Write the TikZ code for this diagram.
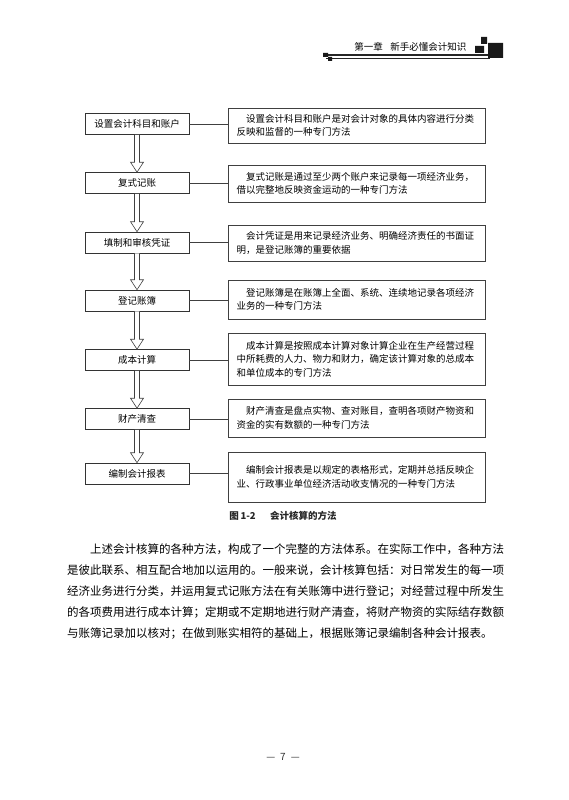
\documentclass[tikz,border=0pt]{standalone}
\usepackage{fontspec}
\setmainfont{Noto Sans CJK SC}
\usepackage{tikz}
\usetikzlibrary{calc}
\usepackage{xcolor}

\begin{document}
\begin{tikzpicture}[x=1pt,y=-1pt,
    method/.style={draw=black!80, line width=0.6pt, minimum width=104pt, minimum height=21pt,
        inner sep=0pt, font=\fontsize{9.5pt}{12pt}\selectfont, text=black},
    explain/.style={draw=black!75, line width=0.8pt, text width=240pt, inner xsep=8.5pt,
        inner ysep=0pt, align=left, font=\fontsize{9.5pt}{13.5pt}\selectfont, text=black},
    link/.style={draw=black!75, line width=0.6pt}]
    \useasboundingbox (0,0) rectangle (569,800);
    \fill[white] (0,0) rectangle (569,800);

    % Running head
    \node[anchor=base east, font=\fontsize{9.5pt}{9.5pt}\selectfont, text=black] (head) at (470,50.5) {第一章\hspace{0.8em}新手必懂会计知识};
    \draw[black!85, line width=1.2pt] (326,55) -- (490,55);
    \draw[black!85, line width=0.6pt] (326,58) -- (490,58);
    \fill[black!90] (323,53) rectangle (328,57) (328,57) rectangle (332,61);
    \fill[black!90] (481,37) rectangle (487,44) (475,46) rectangle (484,53) (488,43) rectangle (503,58);

    % Methods
    \node[method] (l1) at (137,124)   {设置会计科目和账户};
    \node[method] (l2) at (137,183)   {复式记账};
    \node[method] (l3) at (137,242.5) {填制和审核凭证};
    \node[method] (l4) at (137,300.5) {登记账簿};
    \node[method] (l5) at (137,360)   {成本计算};
    \node[method] (l6) at (137,419)   {财产清查};
    \node[method] (l7) at (137,473.5) {编制会计报表};

    % Explanations
    \node[explain, minimum height=35pt] (r1) at (356.5,125.5) {\hspace*{1em}设置会计科目和账户是对会计对象的具体内容进行分类\\反映和监督的一种专门方法};
    \node[explain, minimum height=37pt] (r2) at (356.5,183.5) {\hspace*{1em}复式记账是通过至少两个账户来记录每一项经济业务，\\借以完整地反映资金运动的一种专门方法};
    \node[explain, minimum height=36pt] (r3) at (356.5,243) {\hspace*{1em}会计凭证是用来记录经济业务、明确经济责任的书面证\\明，是登记账簿的重要依据};
    \node[explain, minimum height=39pt] (r4) at (356.5,299.5) {\hspace*{1em}登记账簿是在账簿上全面、系统、连续地记录各项经济\\业务的一种专门方法};
    \node[explain, minimum height=52pt] (r5) at (356.5,359) {\hspace*{1em}成本计算是按照成本计算对象计算企业在生产经营过程\\中所耗费的人力、物力和财力，确定该计算对象的总成本\\和单位成本的专门方法};
    \node[explain, minimum height=38pt] (r6) at (356.5,418) {\hspace*{1em}财产清查是盘点实物、查对账目，查明各项财产物资和\\资金的实有数额的一种专门方法};
    \node[explain, minimum height=50pt] (r7) at (356.5,477) {\hspace*{1em}编制会计报表是以规定的表格形式，定期并总括反映企\\业、行政事业单位经济活动收支情况的一种专门方法};

    % Connectors and hollow arrows
    \foreach \i in {1,...,7}
        \draw[link] (l\i.east) -- (r\i.west |- l\i.east);
    \foreach \i/\j in {1/2,2/3,3/4,4/5,5/6,6/7}
        \draw[link, fill=white] ($(l\i.south)+(-2.5,0)$) -- ($(l\j.north)+(-2.5,-10)$)
            -- ($(l\j.north)+(-6.5,-10)$) -- (l\j.north) -- ($(l\j.north)+(6.5,-10)$)
            -- ($(l\j.north)+(2.5,-10)$) -- ($(l\i.south)+(2.5,0)$);

    % Caption
    \node[font=\fontsize{9.5pt}{9.5pt}\selectfont\bfseries, text=black!85] (cap) at (283,516) {图\,1-2\hspace{1.5em}会计核算的方法};

    % Body text
    \node[anchor=base west, text width=440pt, inner sep=0pt, align=left,
        font=\fontsize{11.5pt}{21pt}\selectfont, text=black] (para) at (67,553) {\hspace*{2em}上述会计核算的各种方法，构成了一个完整的方法体系。在实际工作中，各种方法\\是彼此联系、相互配合地加以运用的。一般来说，会计核算包括：对日常发生的每一项\\经济业务进行分类，并运用复式记账方法在有关账簿中进行登记；对经营过程中所发生\\的各项费用进行成本计算；定期或不定期地进行财产清查，将财产物资的实际结存数额\\与账簿记录加以核对；在做到账实相符的基础上，根据账簿记录编制各种会计报表。};

    % Page number
    \node[font=\fontsize{10pt}{10pt}\selectfont, text=black!80] (pnum) at (283,757) {—\enspace 7\enspace —};
\end{tikzpicture}
\end{document}
